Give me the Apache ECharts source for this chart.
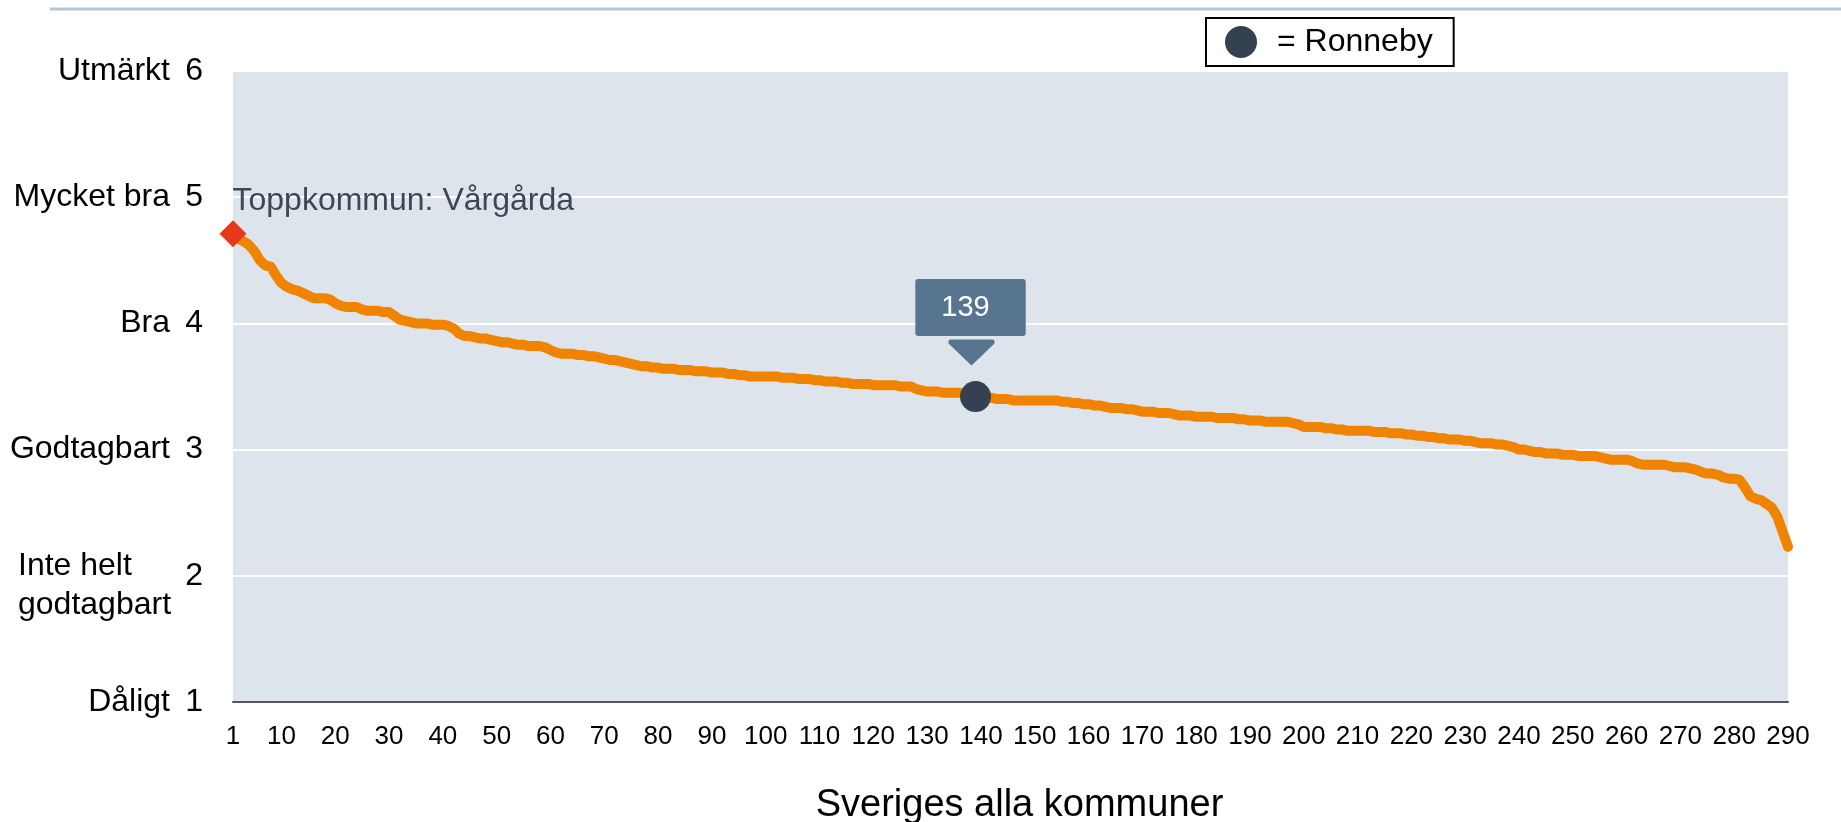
<!DOCTYPE html>
<html>
<head>
<meta charset="utf-8">
<script src="https://cdn.jsdelivr.net/npm/echarts@6/dist/echarts.min.js"></script>
<style>
html,body{margin:0;padding:0;background:#fff;}
#chart{width:1841px;height:822px;}
</style>
</head>
<body>
<div id="chart"></div>
<script>
// Ranks of all Swedish municipalities (1..290)
const ranks = Array.from({length: 290}, (_, i) => String(i + 1));

// Index values per rank
const values = [
  4.71,4.67,4.65,4.62,4.57,4.50,4.46,4.45,4.38,4.32,
  4.29,4.27,4.26,4.24,4.22,4.20,4.20,4.20,4.19,4.16,
  4.14,4.13,4.13,4.13,4.11,4.10,4.10,4.10,4.09,4.09,
  4.06,4.03,4.02,4.01,4.00,4.00,4.00,3.99,3.99,3.99,
  3.98,3.96,3.92,3.90,3.90,3.89,3.88,3.88,3.87,3.86,
  3.85,3.85,3.84,3.83,3.83,3.82,3.82,3.82,3.81,3.79,
  3.77,3.76,3.76,3.76,3.75,3.75,3.74,3.74,3.73,3.72,
  3.71,3.71,3.70,3.69,3.68,3.67,3.66,3.66,3.65,3.65,
  3.64,3.64,3.64,3.63,3.63,3.63,3.62,3.62,3.62,3.61,
  3.61,3.61,3.60,3.60,3.59,3.59,3.58,3.58,3.58,3.58,
  3.58,3.58,3.57,3.57,3.57,3.56,3.56,3.56,3.55,3.55,
  3.54,3.54,3.54,3.53,3.53,3.52,3.52,3.52,3.52,3.51,
  3.51,3.51,3.51,3.51,3.50,3.50,3.50,3.48,3.47,3.46,
  3.46,3.46,3.45,3.45,3.45,3.45,3.44,3.43,3.42,3.42,
  3.41,3.41,3.40,3.40,3.40,3.39,3.39,3.39,3.39,3.39,
  3.39,3.39,3.39,3.39,3.38,3.38,3.37,3.37,3.36,3.36,
  3.35,3.35,3.34,3.33,3.33,3.33,3.32,3.32,3.31,3.30,
  3.30,3.30,3.29,3.29,3.29,3.28,3.27,3.27,3.27,3.26,
  3.26,3.26,3.26,3.25,3.25,3.25,3.25,3.24,3.24,3.23,
  3.23,3.23,3.22,3.22,3.22,3.22,3.22,3.21,3.20,3.18,
  3.18,3.18,3.18,3.17,3.17,3.16,3.16,3.15,3.15,3.15,
  3.15,3.15,3.14,3.14,3.14,3.13,3.13,3.13,3.12,3.12,
  3.11,3.11,3.10,3.10,3.09,3.09,3.08,3.08,3.08,3.07,
  3.07,3.06,3.05,3.05,3.05,3.04,3.04,3.03,3.02,3.00,
  3.00,2.99,2.98,2.98,2.97,2.97,2.97,2.96,2.96,2.96,
  2.95,2.95,2.95,2.95,2.94,2.93,2.92,2.92,2.92,2.92,
  2.91,2.89,2.88,2.88,2.88,2.88,2.88,2.87,2.86,2.86,
  2.86,2.85,2.84,2.82,2.81,2.81,2.80,2.78,2.77,2.77,
  2.76,2.70,2.63,2.61,2.60,2.57,2.54,2.47,2.35,2.23
];

// Y-axis tick values and their verbal names
const yTicks = [1, 2, 3, 4, 5, 6];
const yNames = ['Dåligt', 'Inte helt\ngodtagbart', 'Godtagbart', 'Bra', 'Mycket bra', 'Utmärkt'];

// Highlighted municipalities
const topName = 'Toppkommun: Vårgårda';
const topRank = 1;
const focusName = '= Ronneby';
const focusRank = 139;

const FONT = '"Liberation Sans", Arial, sans-serif';

const chart = echarts.init(document.getElementById('chart'));

function nameFormatter(v) {
  const idx = yTicks.indexOf(v);
  if (idx < 0) return '';
  const n = yNames[idx];
  if (n.indexOf('\n') >= 0) {
    const parts = n.split('\n');
    return '{e| }\n' + parts.map(p => '{l|' + p + '}').join('\n');
  }
  return n;
}

const option = {
  animation: false,
  textStyle: {fontFamily: FONT},
  graphic: [{
    type: 'line',
    shape: {x1: 50, y1: 9, x2: 1841, y2: 9},
    style: {stroke: '#b7c6d3', lineWidth: 3}
  }],
  legend: {
    data: [focusName],
    left: 1206,
    top: 18,
    orient: 'horizontal',
    backgroundColor: '#fff',
    borderColor: '#000',
    borderWidth: 2,
    borderRadius: 0,
    padding: [8, 21, 8, 19],
    itemWidth: 32,
    itemHeight: 32,
    icon: 'circle',
    selectedMode: false,
    itemStyle: {opacity: 1},
    textStyle: {fontSize: 32, color: '#000', fontFamily: FONT, padding: [0, 0, 0, 15]}
  },
  grid: {
    left: 233, right: 53, top: 71, bottom: 120,
    containLabel: false,
    outerBoundsMode: 'none',
    show: true, backgroundColor: '#dde4eb', borderWidth: 0
  },
  xAxis: {
    type: 'category',
    data: ranks,
    boundaryGap: false,
    name: 'Sveriges alla kommuner',
    nameLocation: 'middle',
    nameGap: 85,
    nameTextStyle: {fontSize: 38, color: '#000', fontFamily: FONT, padding: [0, 0, 0, 18]},
    axisLine: {show: true, lineStyle: {color: '#555', width: 2}},
    axisTick: {show: false},
    axisLabel: {
      interval: function (idx) { return idx === 0 || (idx + 1) % 10 === 0; },
      fontSize: 26, color: '#000', margin: 22, fontFamily: FONT
    },
    splitLine: {show: false}
  },
  yAxis: [{
    type: 'value',
    min: 1, max: 6, interval: 1,
    axisLine: {show: false},
    axisTick: {show: false},
    axisLabel: {fontSize: 32, color: '#000', margin: 30, fontFamily: FONT},
    splitLine: {show: true, lineStyle: {color: '#ffffff', width: 2}}
  }, {
    type: 'value',
    position: 'left',
    min: 1, max: 6, interval: 1,
    axisLine: {show: false},
    axisTick: {show: false},
    splitLine: {show: false},
    axisLabel: {
      fontSize: 32, color: '#000', margin: 63, fontFamily: FONT,
      formatter: nameFormatter,
      rich: {
        e: {fontSize: 10, lineHeight: 20},
        l: {fontSize: 32, lineHeight: 39, width: 152, align: 'left', color: '#000', fontFamily: FONT}
      }
    }
  }],
  series: [{
    name: 'Kommuner',
    type: 'line',
    data: values,
    showSymbol: false,
    silent: true,
    z: 2,
    lineStyle: {color: '#f08400', width: 10, join: 'round', cap: 'round'}
  }, {
    name: 'Toppkommun',
    type: 'scatter',
    data: [[topRank - 1, values[topRank - 1]]],
    symbol: 'diamond',
    symbolSize: 27,
    silent: true,
    z: 4,
    itemStyle: {color: '#e4391b', opacity: 1},
    label: {
      show: true,
      formatter: topName,
      position: [13, -19],
      align: 'left',
      verticalAlign: 'middle',
      fontSize: 32,
      color: '#3b4957',
      fontFamily: FONT
    }
  }, {
    name: focusName,
    type: 'scatter',
    data: [[focusRank - 1, values[focusRank - 1]]],
    symbol: 'circle',
    symbolSize: 31,
    silent: true,
    z: 5,
    itemStyle: {color: '#344150', opacity: 1},
    label: {
      show: true,
      position: 'top',
      distance: 45,
      offset: [-5, 0],
      formatter: String(focusRank),
      fontSize: 29,
      color: '#ffffff',
      backgroundColor: '#587590',
      borderRadius: 3,
      padding: [14, 36, 14, 26],
      fontFamily: FONT
    },
    markPoint: {
      silent: true,
      data: [{
        coord: [focusRank - 1, values[focusRank - 1]],
        symbol: 'path://M2,0L44,0Q46,0 46,2L46,4L23,27L0,4L0,2Q0,0 2,0Z',
        symbolSize: [46, 26],
        symbolOffset: [-4, -44],
        itemStyle: {color: '#587590', opacity: 1},
        label: {show: false}
      }]
    }
  }]
};

chart.setOption(option);
</script>
</body>
</html>
